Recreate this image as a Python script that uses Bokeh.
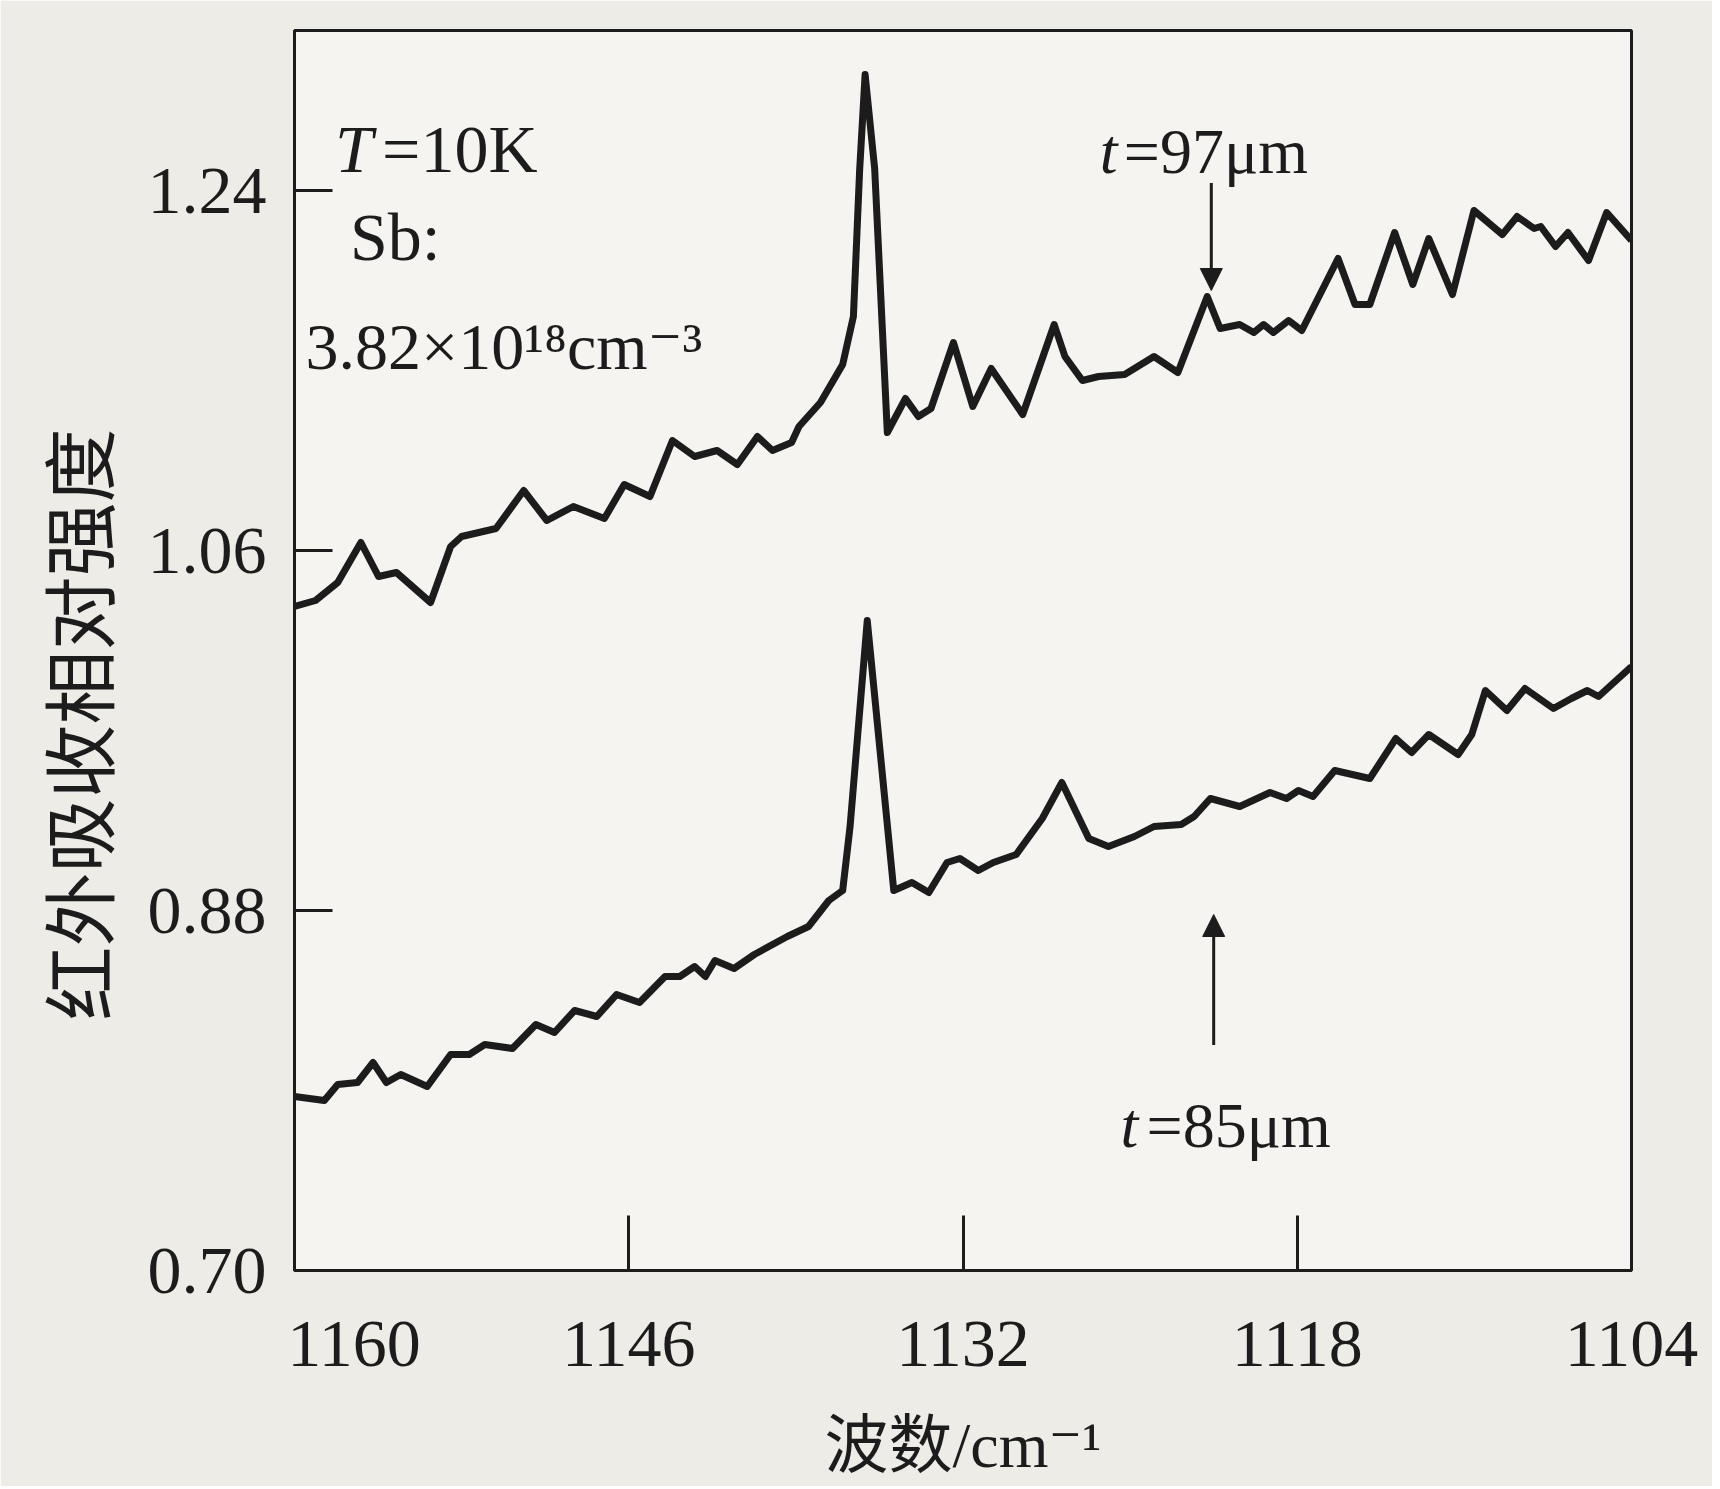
from bokeh.plotting import figure
from bokeh.models import Range1d, FixedTicker, NumeralTickFormatter, Label, Arrow, NormalHead
from bokeh.embed import file_html
from bokeh.resources import INLINE

# ---- data ----
wavenumber_97 = [1160.0, 1159.12, 1158.19, 1157.22, 1156.48, 1155.73, 1154.30, 1153.46, 1153.00, 1151.56,
                 1150.40, 1149.43, 1148.32, 1147.02, 1146.19, 1145.11, 1144.17, 1143.24, 1142.30, 1141.45,
                 1140.61, 1139.98, 1139.18, 1138.87, 1137.97, 1137.04, 1136.59, 1136.33, 1136.10, 1135.70,
                 1135.17, 1134.41, 1133.87, 1133.34, 1132.40, 1131.59, 1130.82, 1129.50, 1128.18, 1127.73,
                 1127.00, 1126.32, 1125.23, 1124.00, 1123.00, 1121.77, 1121.23, 1120.41, 1119.82, 1119.41,
                 1119.00, 1118.36, 1117.81, 1116.29, 1115.58, 1114.96, 1113.92, 1113.16, 1112.49, 1111.50,
                 1110.60, 1109.41, 1108.79, 1108.08, 1107.80, 1107.18, 1106.66, 1105.80, 1105.04, 1104.00]
intensity_97 = [1.032, 1.035, 1.044, 1.064, 1.047, 1.049, 1.034, 1.062, 1.067, 1.071,
                1.090, 1.075, 1.082, 1.076, 1.093, 1.087, 1.115, 1.107, 1.110, 1.103,
                1.117, 1.110, 1.114, 1.122, 1.134, 1.153, 1.177, 1.250, 1.298, 1.251,
                1.119, 1.136, 1.127, 1.131, 1.164, 1.132, 1.151, 1.128, 1.173, 1.157,
                1.145, 1.147, 1.148, 1.157, 1.149, 1.187, 1.171, 1.173, 1.169, 1.173,
                1.169, 1.175, 1.170, 1.206, 1.183, 1.183, 1.219, 1.193, 1.216, 1.188,
                1.230, 1.218, 1.227, 1.221, 1.222, 1.212, 1.219, 1.205, 1.229, 1.215]

wavenumber_85 = [1160.0, 1158.75, 1158.19, 1157.36, 1156.71, 1156.15, 1155.55, 1154.44, 1153.46, 1152.68,
                 1152.03, 1150.87, 1149.89, 1149.11, 1148.27, 1147.34, 1146.51, 1145.55, 1144.48, 1143.86,
                 1143.24, 1142.79, 1142.39, 1141.59, 1140.74, 1139.36, 1138.47, 1137.62, 1137.04, 1136.73,
                 1136.01, 1134.90, 1134.14, 1133.43, 1132.67, 1132.13, 1131.36, 1130.73, 1129.77, 1128.68,
                 1127.86, 1126.73, 1125.91, 1124.82, 1124.00, 1122.86, 1122.32, 1121.64, 1120.41, 1119.14,
                 1118.45, 1117.95, 1117.34, 1116.43, 1114.96, 1113.87, 1113.21, 1112.49, 1111.26, 1110.69,
                 1110.12, 1109.22, 1108.46, 1107.27, 1106.52, 1105.85, 1105.38, 1104.00]
intensity_85 = [0.787, 0.785, 0.793, 0.794, 0.804, 0.794, 0.798, 0.792, 0.808, 0.808,
                0.813, 0.811, 0.823, 0.819, 0.830, 0.827, 0.838, 0.834, 0.847, 0.847,
                0.852, 0.847, 0.855, 0.851, 0.858, 0.867, 0.872, 0.885, 0.890, 0.922,
                1.025, 0.890, 0.894, 0.889, 0.904, 0.906, 0.900, 0.904, 0.908, 0.926,
                0.944, 0.916, 0.912, 0.917, 0.922, 0.923, 0.927, 0.936, 0.932, 0.939,
                0.936, 0.940, 0.937, 0.950, 0.946, 0.966, 0.959, 0.968, 0.958, 0.968,
                0.990, 0.980, 0.991, 0.981, 0.986, 0.990, 0.987, 1.002]

x_ticks = [1160, 1146, 1132, 1118, 1104]
y_ticks = [0.70, 0.88, 1.06, 1.24]
x_label = "波数/cm⁻¹"
y_label = "红外吸收相对强度"

# ---- styling ----
INK = "#1c1c1c"
SERIF = "Liberation Serif, DejaVu Serif, Noto Sans CJK SC"

p = figure(width=1712, height=1486,
           x_range=Range1d(1160, 1104), y_range=Range1d(0.70, 1.32),
           output_backend="svg", toolbar_location=None,
           min_border_left=294, min_border_right=81,
           min_border_top=30, min_border_bottom=216)

p.background_fill_color = "#f6f4f0"
p.border_fill_color = "#eeece7"
p.outline_line_color = INK
p.outline_line_width = 3
p.grid.visible = False

p.xaxis.ticker = FixedTicker(ticks=x_ticks)
p.yaxis.ticker = FixedTicker(ticks=y_ticks)
p.yaxis.formatter = NumeralTickFormatter(format="0.00")
# the first wavenumber label sits just inside the corner, as in the original
p.xaxis.major_label_overrides = {1160: "\u00a0" * 7 + "1160"}

for ax in (p.xaxis, p.yaxis):
    ax.axis_line_color = INK
    ax.axis_line_width = 3
    ax.major_tick_line_color = INK
    ax.major_tick_line_width = 3
    ax.major_tick_out = 0
    ax.minor_tick_line_color = None
    ax.major_label_text_font = SERIF
    ax.major_label_text_font_size = "68px"
    ax.major_label_text_color = INK
    ax.axis_label_text_color = INK
    ax.axis_label_text_font_style = "normal"

p.xaxis.major_tick_in = 55
p.yaxis.major_tick_in = 38
p.xaxis.major_label_standoff = 34
p.yaxis.major_label_standoff = 28

p.xaxis.axis_label = x_label
p.xaxis.axis_label_text_font = SERIF
p.xaxis.axis_label_text_font_size = "64px"
p.xaxis.axis_label_standoff = 26

p.yaxis.axis_label = y_label + "\u3000\u3000"
p.yaxis.axis_label_text_font = "Noto Sans CJK SC"
p.yaxis.axis_label_text_font_size = "74px"
p.yaxis.axis_label_standoff = 16

# ---- spectra ----
p.line(wavenumber_97, intensity_97, line_width=7, line_color=INK, line_join="round")
p.line(wavenumber_85, intensity_85, line_width=7, line_color=INK, line_join="round")

# ---- annotations ----
def lab(x, y, text, size="68px", style="normal", x_offset=0):
    p.add_layout(Label(x=x, y=y, text=text, x_offset=x_offset,
                       text_font=SERIF, text_font_size=size, text_font_style=style,
                       text_color=INK, text_align="left", text_baseline="alphabetic"))

lab(1158.3, 1.261, "T", style="italic")
lab(1158.3, 1.261, "=10K", x_offset=47)
lab(1157.68, 1.217, "Sb:")
lab(1159.54, 1.162, "3.82×10¹⁸cm⁻³", size="66px")

lab(1126.27, 1.2595, "t", size="64px", style="italic")
lab(1126.27, 1.2595, "=97μm", size="64px", x_offset=24)
lab(1125.4, 0.7726, "t", size="64px", style="italic")
lab(1125.4, 0.7726, "=85μm", size="64px", x_offset=26)

p.add_layout(Arrow(end=NormalHead(size=22, fill_color=INK, line_color=INK),
                   x_start=1121.6, y_start=1.2437, x_end=1121.6, y_end=1.19,
                   line_color=INK, line_width=3))
p.add_layout(Arrow(end=NormalHead(size=22, fill_color=INK, line_color=INK),
                   x_start=1121.5, y_start=0.8127, x_end=1121.5, y_end=0.878,
                   line_color=INK, line_width=3))

open("out.html", "w", encoding="utf-8").write(file_html(p, INLINE))
